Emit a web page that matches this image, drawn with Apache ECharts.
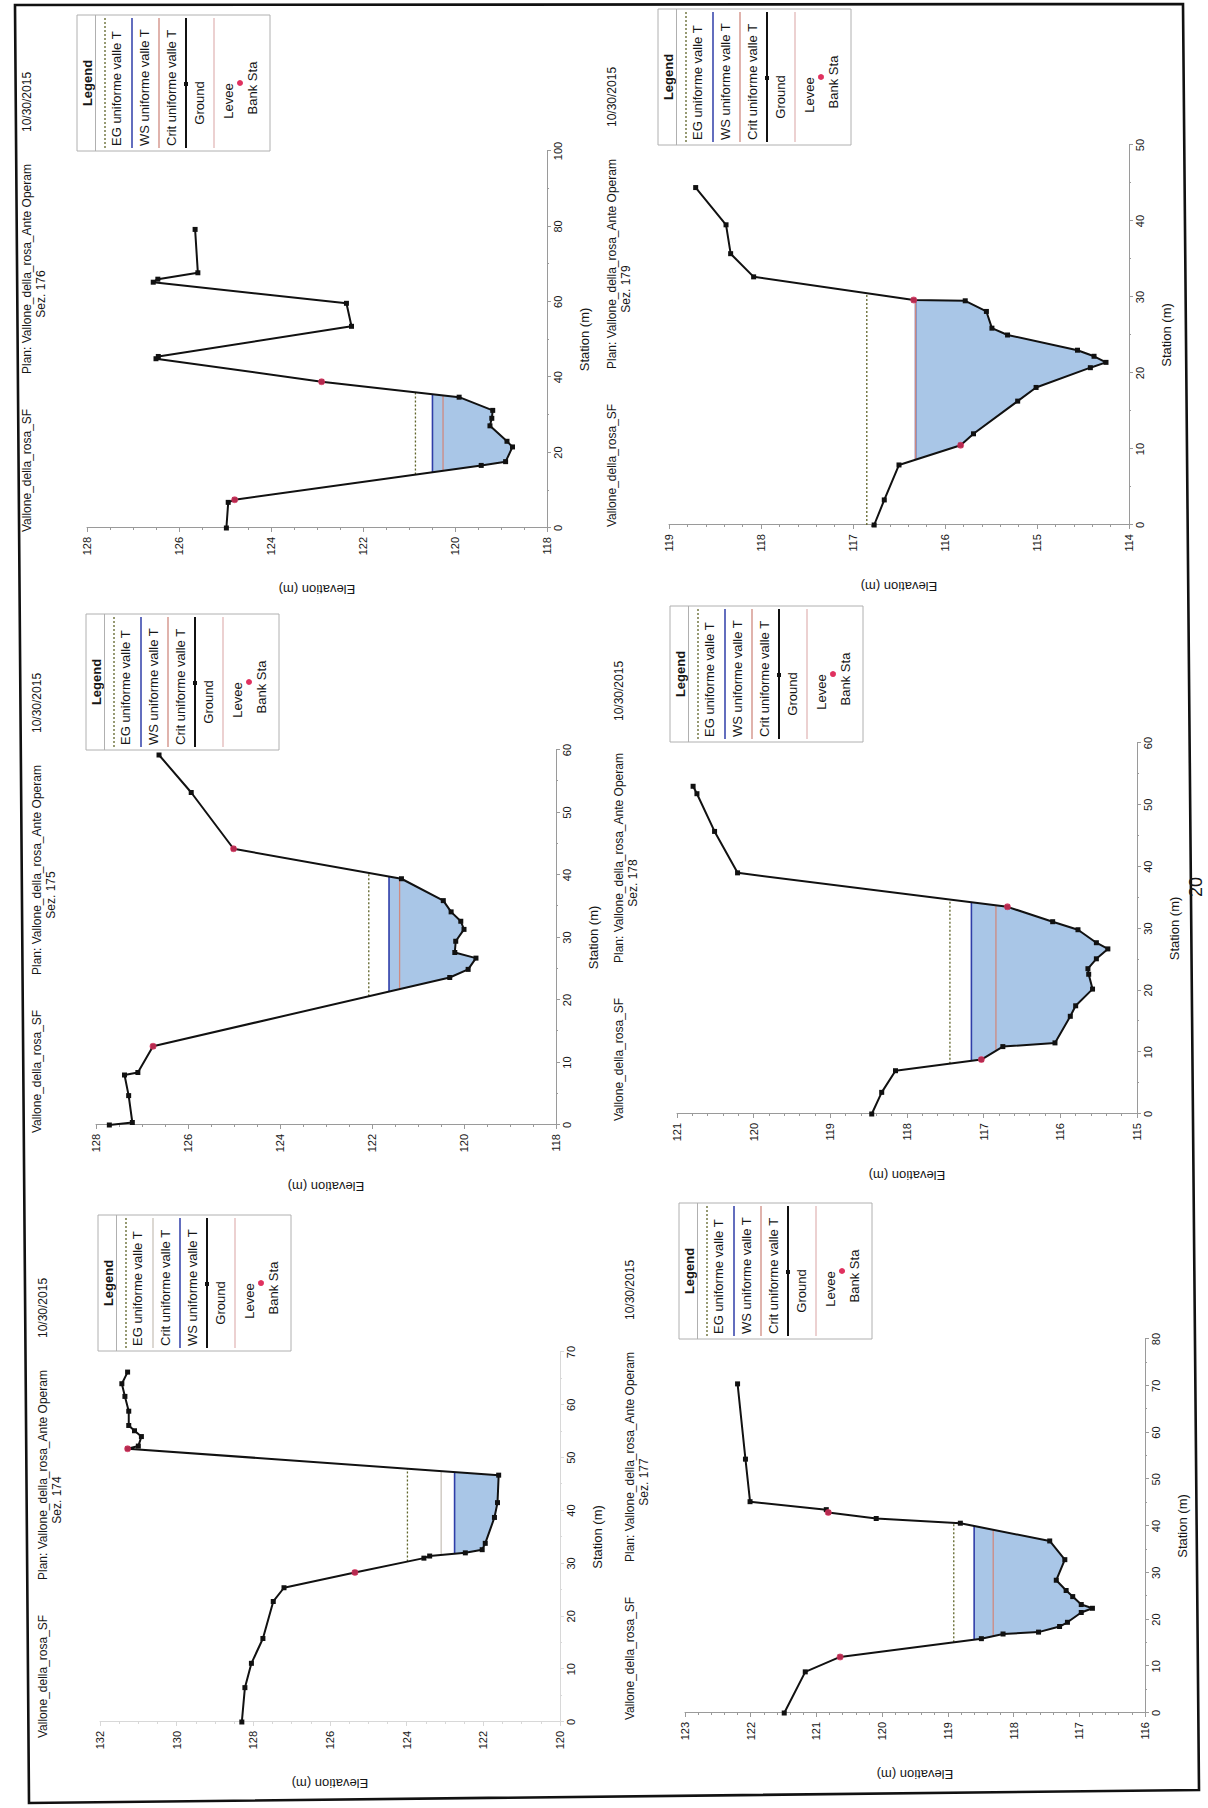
<!DOCTYPE html>
<html><head><meta charset="utf-8">
<script src="https://cdn.jsdelivr.net/npm/echarts@6/dist/echarts.min.js"></script>
<style>
html,body{margin:0;padding:0;background:#fff;overflow:hidden;width:1208px;height:1808px;}
#page{position:absolute;left:0;top:0;width:1808px;height:1208px;transform-origin:0 0;transform:translateY(1808px) rotate(-90deg);background:#fff;}
</style></head><body><div id="page"></div>
<script>
// ---------------- DATA (station m, elevation m) ----------------
const ground174 = [[0,128.3],[6.5,128.22],[11.1,128.05],[15.8,127.75],[22.8,127.48],[25.4,127.2],[28.3,125.35],[31.0,123.55],[31.4,123.4],[32.0,122.47],[32.6,122.03],[33.8,121.95],[38.7,121.71],[41.5,121.63],[46.7,121.6],[51.7,131.28],[52.2,131.0],[54.0,130.92],[55.1,131.1],[56.1,131.25],[58.8,131.25],[61.6,131.35],[64.0,131.43],[66.2,131.28]];
const bank174 = [[28.3,125.35],[51.7,131.28]];
const eg174 = 123.98, ws174 = 122.75, crit174 = 123.1;
const elevAxis174 = [120, 132, 2], staAxis174 = [0, 70, 10];

const ground175 = [[0,127.71],[0.4,127.21],[4.7,127.29],[8.0,127.38],[8.4,127.09],[12.6,126.76],[23.6,120.31],[24.9,119.91],[26.7,119.74],[27.6,120.2],[29.4,120.18],[31.3,120.0],[32.6,120.07],[34.1,120.28],[35.9,120.45],[39.4,121.36],[44.2,125.01],[53.2,125.93],[59.2,126.63]];
const bank175 = [[12.6,126.76],[44.2,125.01]];
const eg175 = 122.07, ws175 = 121.63, crit175 = 121.4;
const elevAxis175 = [118, 128, 2], staAxis175 = [0, 60, 10];

const ground176 = [[0,124.97],[6.8,124.93],[7.5,124.79],[16.6,119.43],[17.6,118.9],[21.5,118.75],[23.0,118.87],[27.1,119.24],[29.1,119.2],[31.2,119.18],[34.7,119.91],[38.8,122.9],[44.9,126.5],[45.5,126.45],[53.5,122.25],[59.6,122.36],[65.2,126.56],[66.0,126.46],[67.7,125.59],[79.2,125.65]];
const bank176 = [[7.5,124.79],[38.8,122.9]];
const eg176 = 120.86, ws176 = 120.49, crit176 = 120.26;
const elevAxis176 = [118, 128, 2], staAxis176 = [0, 100, 20];

const ground177 = [[0,121.49],[8.8,121.17],[12.0,120.64],[15.9,118.49],[16.9,118.16],[17.3,117.62],[18.5,117.3],[19.4,117.18],[21.5,116.97],[22.4,116.8],[23.2,116.97],[24.9,117.1],[26.2,117.2],[28.4,117.35],[32.8,117.22],[36.8,117.45],[40.6,118.81],[41.6,120.09],[42.9,120.82],[43.5,120.85],[45.2,122.01],[54.3,122.08],[70.4,122.2]];
const bank177 = [[12.0,120.64],[42.9,120.82]];
const eg177 = 118.91, ws177 = 118.6, crit177 = 118.31;
const elevAxis177 = [116, 123, 1], staAxis177 = [0, 80, 10];

const ground178 = [[0,118.46],[3.5,118.33],[7.0,118.15],[8.8,117.03],[10.9,116.75],[11.5,116.07],[15.8,115.87],[17.5,115.8],[20.2,115.58],[22.6,115.63],[23.5,115.64],[25.1,115.53],[26.7,115.38],[27.7,115.53],[29.8,115.77],[31.1,116.1],[33.5,116.69],[39.0,120.21],[45.7,120.51],[51.8,120.74],[53.0,120.79]];
const bank178 = [[8.8,117.03],[33.5,116.69]];
const eg178 = 117.44, ws178 = 117.16, crit178 = 116.84;
const elevAxis178 = [115, 121, 1], staAxis178 = [0, 60, 10];

const ground179 = [[0,116.77],[3.3,116.66],[7.9,116.5],[10.5,115.83],[12.0,115.69],[16.3,115.21],[18.1,115.01],[20.7,114.42],[21.4,114.25],[22.2,114.38],[23.0,114.56],[25.0,115.32],[25.9,115.49],[28.1,115.55],[29.5,115.78],[29.6,116.34],[32.65,118.08],[35.7,118.33],[39.5,118.38],[44.4,118.71]];
const bank179 = [[10.5,115.83],[29.6,116.34]];
const eg179 = 116.85, ws179 = 116.32, crit179 = 116.32;
const elevAxis179 = [114, 119, 1], staAxis179 = [0, 50, 10];

const riverText = 'Vallone_della_rosa_SF';
const planText = 'Plan: Vallone_della_rosa_Ante Operam';
const dateText = '10/30/2015';
const legendLabels = {EG:'EG uniforme valle T', WS:'WS uniforme valle T', Crit:'Crit uniforme valle T'};

// ---------------- LAYOUT (landscape page coords, rotated afterwards) ----------------
const panels = [
  {sez:'174', ground:ground174, bank:bank174, eg:eg174, ws:ws174, crit:crit174, elev:elevAxis174, sta:staAxis174,
   grid:[86,100,370,460], legend:[457,98], title:[70,43], order:['EG','Crit','WS'], critColor:'#c9c3bb', axisColor:'#d8d8d8'},
  {sez:'175', ground:ground175, bank:bank175, eg:eg175, ws:ws175, crit:crit175, elev:elevAxis175, sta:staAxis175,
   grid:[683,96,375,460], legend:[1058,86], title:[675,37], order:['EG','WS','Crit'], critColor:'#cf8a80', axisColor:'#9a9a9a'},
  {sez:'176', ground:ground176, bank:bank176, eg:eg176, ws:ws176, crit:crit176, elev:elevAxis176, sta:staAxis176,
   grid:[1280,87,377,460], legend:[1657,77], title:[1276,27], order:['EG','WS','Crit'], critColor:'#cf8a80', axisColor:'#9a9a9a'},
  {sez:'177', ground:ground177, bank:bank177, eg:eg177, ws:ws177, crit:crit177, elev:elevAxis177, sta:staAxis177,
   grid:[95,685,374,460], legend:[469,679], title:[88,630], order:['EG','WS','Crit'], critColor:'#cf8a80', axisColor:'#9a9a9a'},
  {sez:'178', ground:ground178, bank:bank178, eg:eg178, ws:ws178, crit:crit178, elev:elevAxis178, sta:staAxis178,
   grid:[694,677,371,460], legend:[1066,670], title:[687,619], order:['EG','WS','Crit'], critColor:'#cf8a80', axisColor:'#9a9a9a'},
  {sez:'179', ground:ground179, bank:bank179, eg:eg179, ws:ws179, crit:crit179, elev:elevAxis179, sta:staAxis179,
   grid:[1283,669,380,460], legend:[1663,658], title:[1281,612], order:['EG','WS','Crit'], critColor:'#cf8a80', axisColor:'#9a9a9a'}
];

const FONT = '"Liberation Sans", Arial, sans-serif';
const COL = {ground:'#111111', bank:'#e0315f', ws:'#2f3ea8', eg:'#5f6428', water:'#a9c6e7', levee:'#d9a3a3', box:'#b0b0b0', text:'#161616'};

// water level extent where ground lies below the level, around the channel thalweg
function span(ground, level) {
  let m = 0;
  ground.forEach((p, i) => { if (p[1] < ground[m][1]) m = i; });
  let i = m; while (i > 0 && ground[i-1][1] < level) i--;
  let xL;
  if (i === 0) xL = ground[0][0];
  else { const a = ground[i-1], b = ground[i]; xL = a[0] + (a[1]-level)/(a[1]-b[1])*(b[0]-a[0]); }
  let j = m; while (j < ground.length-1 && ground[j+1][1] < level) j++;
  let xR;
  if (j === ground.length-1) xR = ground[j][0];
  else { const a = ground[j], b = ground[j+1]; xR = a[0] + (level-a[1])/(b[1]-a[1])*(b[0]-a[0]); }
  return {xL, xR, inner: ground.slice(i, j+1)};
}

const grids = [], xAxes = [], yAxes = [], series = [], graphics = [];

panels.forEach((p, k) => {
  const [gl, gt, gw, gh] = p.grid;
  grids.push({left: gl, top: gt, width: gw, height: gh, containLabel: false});
  const axisCommon = (color) => ({
    axisLine: {show: true, lineStyle: {color: color, width: 1}},
    axisTick: {show: true, length: 4, lineStyle: {color: color}},
    splitLine: {show: false},
    axisLabel: {fontSize: 11, color: COL.text, fontFamily: FONT},
    nameTextStyle: {fontSize: 13, color: COL.text, fontFamily: FONT}
  });
  xAxes.push(Object.assign(axisCommon(p.axisColor), {
    type: 'value', gridIndex: k, min: p.sta[0], max: p.sta[1], interval: p.sta[2],
    name: 'Station (m)', nameLocation: 'middle', nameGap: 31,
    minorTick: {show: true, splitNumber: 2, length: 2, lineStyle: {color: p.axisColor}}
  }));
  xAxes[k].axisLabel.margin = 5;
  yAxes.push(Object.assign(axisCommon(p.axisColor), {
    type: 'value', gridIndex: k, min: p.elev[0], max: p.elev[1], interval: p.elev[2],
    name: 'Elevation (m)', nameLocation: 'middle', nameGap: 55, nameRotate: 90,
    minorTick: {show: true, splitNumber: p.elev[2] === 1 ? 5 : 4, length: 2, lineStyle: {color: p.axisColor}}
  }));
  yAxes[k].axisLabel.margin = 9;

  const wsSpan = span(p.ground, p.ws);
  const egSpan = span(p.ground, p.eg);
  const crSpan = span(p.ground, p.crit);
  const poly = [[wsSpan.xL, p.ws]].concat(wsSpan.inner, [[wsSpan.xR, p.ws]]);

  series.push({
    type: 'custom', name: 'water' + p.sez, xAxisIndex: k, yAxisIndex: k, silent: true, z: 1,
    data: [poly[0]],
    renderItem: (params, api) => ({
      type: 'polygon',
      shape: {points: poly.map(pt => api.coord(pt))},
      style: {fill: COL.water, stroke: null}
    })
  });
  const lineSer = (name, sp, level, color, width, dash, z) => ({
    type: 'line', name: name, xAxisIndex: k, yAxisIndex: k, symbol: 'none', silent: true, z: z,
    data: [[sp.xL, level], [sp.xR, level]],
    lineStyle: {color: color, width: width, type: dash}
  });
  series.push(lineSer('EG uniforme valle T', egSpan, p.eg, COL.eg, 1.3, [2, 2], 3));
  series.push(lineSer('WS uniforme valle T', wsSpan, p.ws, COL.ws, 1.6, 'solid', 3));
  series.push(lineSer('Crit uniforme valle T', crSpan, p.crit, p.critColor, 1.3, 'solid', 4));
  series.push({
    type: 'line', name: 'Ground', xAxisIndex: k, yAxisIndex: k, data: p.ground, z: 5, silent: true,
    symbol: 'rect', symbolSize: 5, showSymbol: true,
    itemStyle: {color: COL.ground}, lineStyle: {color: COL.ground, width: 2}
  });
  series.push({
    type: 'scatter', name: 'Bank Sta', xAxisIndex: k, yAxisIndex: k, data: p.bank, z: 6, silent: true,
    symbol: 'circle', symbolSize: 7, itemStyle: {color: COL.bank}
  });

  // title lines
  const [tx, ty] = p.title;
  const tstyle = (text, align) => ({text: text, font: '12px ' + FONT, fill: COL.text, textAlign: align, textVerticalAlign: 'middle'});
  graphics.push({type: 'text', x: tx, y: ty, style: tstyle(riverText, 'left')});
  graphics.push({type: 'text', x: tx + 158, y: ty, style: tstyle(planText, 'left')});
  graphics.push({type: 'text', x: tx + 400, y: ty, style: tstyle(dateText, 'left')});
  graphics.push({type: 'text', x: tx + 238, y: ty + 14, style: tstyle('Sez. ' + p.sez, 'center')});

  // legend box
  const [lx, ly] = p.legend, LW = 136, LH = 193;
  graphics.push({type: 'rect', shape: {x: lx, y: ly, width: LW, height: LH}, style: {fill: '#fff', stroke: COL.box, lineWidth: 1}, z: 10});
  graphics.push({type: 'text', x: lx + LW/2, y: ly + 10, z: 11, style: {text: 'Legend', font: 'bold 13px ' + FONT, fill: COL.text, textAlign: 'center', textVerticalAlign: 'middle'}});
  graphics.push({type: 'line', z: 11, shape: {x1: lx, y1: ly + 18.5, x2: lx + LW, y2: ly + 18.5}, style: {stroke: COL.box, lineWidth: 1}});
  const sampleStyle = {
    EG: {stroke: COL.eg, lineWidth: 1.3, lineDash: [2, 2]},
    WS: {stroke: COL.ws, lineWidth: 1.5},
    Crit: {stroke: p.critColor, lineWidth: 1.3}
  };
  const lineY = [28, 55, 82], textY = [39, 67, 94];
  p.order.forEach((key, r) => {
    graphics.push({type: 'line', z: 11, shape: {x1: lx + 3, y1: ly + lineY[r], x2: lx + LW - 3, y2: ly + lineY[r]}, style: sampleStyle[key]});
    graphics.push({type: 'text', z: 11, x: lx + 5, y: ly + textY[r], style: {text: legendLabels[key], font: '13px ' + FONT, fill: COL.text, textAlign: 'left', textVerticalAlign: 'middle'}});
  });
  graphics.push({type: 'line', z: 11, shape: {x1: lx + 3, y1: ly + 109, x2: lx + LW - 3, y2: ly + 109}, style: {stroke: COL.ground, lineWidth: 2}});
  graphics.push({type: 'rect', z: 12, shape: {x: lx + 65, y: ly + 107, width: 4, height: 4}, style: {fill: COL.ground}});
  graphics.push({type: 'text', z: 11, x: lx + 48, y: ly + 122, style: {text: 'Ground', font: '13px ' + FONT, fill: COL.text, textAlign: 'center', textVerticalAlign: 'middle'}});
  graphics.push({type: 'line', z: 11, shape: {x1: lx + 3, y1: ly + 137, x2: lx + LW - 3, y2: ly + 137}, style: {stroke: COL.levee, lineWidth: 1}});
  graphics.push({type: 'text', z: 11, x: lx + 50, y: ly + 151, style: {text: 'Levee', font: '13px ' + FONT, fill: COL.text, textAlign: 'center', textVerticalAlign: 'middle'}});
  graphics.push({type: 'circle', z: 11, shape: {cx: lx + 68, cy: ly + 163, r: 3}, style: {fill: COL.bank}});
  graphics.push({type: 'text', z: 11, x: lx + 63, y: ly + 175, style: {text: 'Bank Sta', font: '13px ' + FONT, fill: COL.text, textAlign: 'center', textVerticalAlign: 'middle'}});
});

// page frame and page number
graphics.push({type: 'polygon', z: 20, shape: {points: [[5, 29], [1803, 15], [1804, 1183], [18, 1199]]}, style: {fill: null, stroke: '#111', lineWidth: 2.6}});
graphics.push({type: 'text', x: 921, y: 1196, z: 20, style: {text: '20', font: '18px ' + FONT, fill: COL.text, textAlign: 'center', textVerticalAlign: 'middle'}});

const chart = echarts.init(document.getElementById('page'), null, {renderer: 'svg', width: 1808, height: 1208});
chart.setOption({
  animation: false,
  backgroundColor: '#fff',
  textStyle: {fontFamily: FONT},
  grid: grids, xAxis: xAxes, yAxis: yAxes, series: series,
  graphic: {elements: graphics}
});
</script>
</body></html>
